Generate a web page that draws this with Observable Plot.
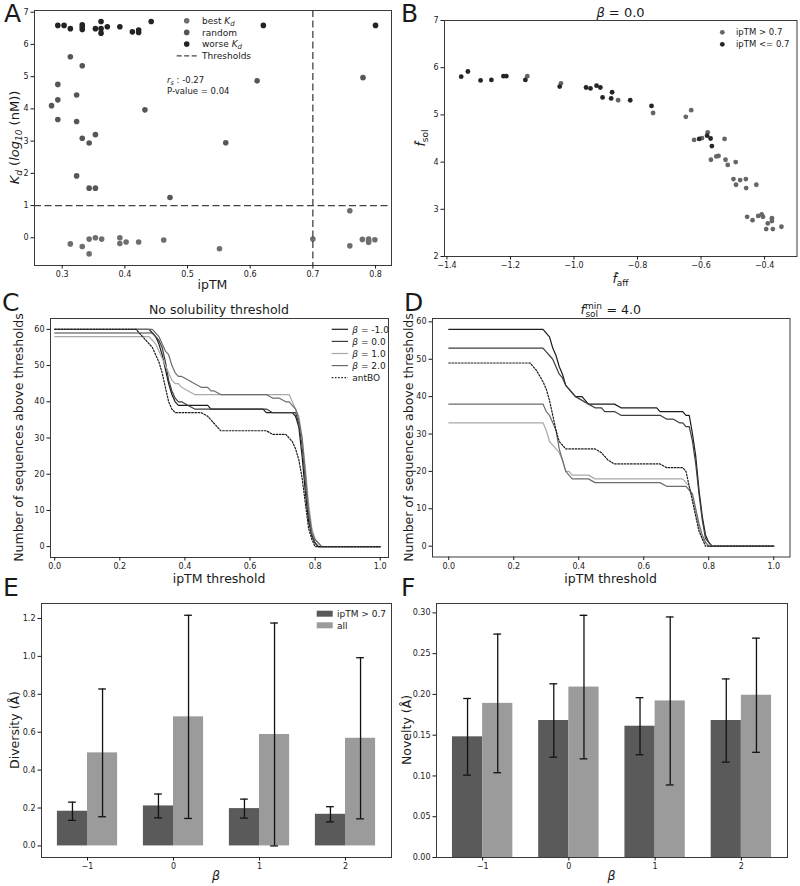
<!DOCTYPE html>
<html><head><meta charset="utf-8">
<script src="https://cdn.jsdelivr.net/npm/d3@7"></script>
<script src="https://cdn.jsdelivr.net/npm/@observablehq/plot@0.6"></script>
<style>
html,body{margin:0;padding:0;background:#fff;}
#fig{position:relative;width:800px;height:886px;overflow:hidden;font-family:"DejaVu Sans",sans-serif;color:#1a1a1a;background:#fff;}
#overlay{position:absolute;left:0;top:0;z-index:5;}
</style></head><body><div id="fig"></div>
<script>
// ---------- Panel A : Kd vs ipTM ----------
const aBestIp = [0.313,0.332,0.343,0.343,0.353,0.363,0.392,0.392,0.402,0.422,0.462,0.551,0.700,0.759,0.759,0.779,0.789,0.789,0.789,0.799];
const aBestKd = [-0.19,-0.27,-0.04,-0.50,0.00,-0.04,0.00,-0.18,-0.13,-0.13,-0.07,-0.34,-0.04,-0.25,0.84,-0.05,-0.04,-0.10,-0.14,-0.06];
const aRandIp = [0.313,0.332,0.293,0.293,0.283,0.323,0.293,0.323,0.432,0.332,0.353,0.343,0.561,0.323,0.343,0.353,0.472,0.611,0.780];
const aRandKd = [5.62,5.34,4.76,4.28,4.10,4.43,3.67,3.61,3.97,3.09,3.20,2.94,2.95,1.92,1.54,1.54,1.25,4.87,4.97];
const aWorseIp = [0.293,0.303,0.313,0.332,0.332,0.332,0.353,0.362,0.362,0.362,0.372,0.392,0.412,0.422,0.422,0.442,0.621,0.800];
const aWorseKd = [6.59,6.59,6.49,6.61,6.54,6.46,6.49,6.71,6.49,6.35,6.55,6.55,6.39,6.45,6.37,6.71,6.59,6.59];
const aXTicks = [0.3,0.4,0.5,0.6,0.7,0.8];
const aYTicks = [0,1,2,3,4,5,6,7];
const aKdThreshold = 1, aIpThreshold = 0.7;

// ---------- Panel B : f_sol vs f_aff ----------
const bHiAff = [-1.147,-1.041,-0.861,-0.751,-0.648,-0.631,-0.622,-0.597,-0.579,-0.526,-0.569,-0.552,-0.545,-0.523,-0.516,-0.491,-0.498,-0.490,-0.477,-0.459,-0.458,-0.426,-0.455,-0.438,-0.420,-0.409,-0.405,-0.390,-0.377,-0.377,-0.395,-0.374,-0.347];
const bHiSol = [5.82,5.67,5.31,5.04,4.96,5.10,4.47,4.51,4.63,4.49,4.05,4.12,4.13,4.05,3.94,4.00,3.64,3.52,3.62,3.64,3.45,3.52,2.84,2.77,2.86,2.89,2.84,2.70,2.81,2.75,2.58,2.58,2.63];
const bLoAff = [-1.355,-1.334,-1.294,-1.260,-1.222,-1.213,-1.153,-1.045,-0.962,-0.948,-0.929,-0.917,-0.910,-0.880,-0.883,-0.823,-0.756,-0.606,-0.581,-0.570,-0.566];
const bLoSol = [5.81,5.92,5.73,5.74,5.82,5.82,5.74,5.60,5.58,5.56,5.62,5.58,5.37,5.48,5.35,5.31,5.19,4.49,4.56,4.50,4.34];
const bXTicks = [-1.4,-1.2,-1.0,-0.8,-0.6,-0.4];
const bYTicks = [2,3,4,5,6,7];

// ---------- Panels C, D : sequences above thresholds ----------
const thr = [0,0.25,0.27,0.29,0.30,0.31,0.32,0.33,0.34,0.35,0.36,0.37,0.38,0.39,0.41,0.43,0.45,0.47,0.48,0.49,0.51,0.53,0.64,0.65,0.67,0.69,0.71,0.72,0.73,0.74,0.75,0.76,0.77,0.78,0.79,0.80,0.81,0.82,0.83,1.0];
const cBetaM1 = [60,60,60,60,59,58,56,53,49,45,42,40,39,39,39,39,39,39,38,38,38,38,38,37,37,37,37,37,37,36,33,25,15,7,3,1,0,0,0,0];
const cBeta0  = [59,59,59,59,59,58,57,55,51,46,43,41,40,40,39,38,38,38,38,38,38,38,38,38,37,37,37,37,37,37,34,28,18,9,3,1,0,0,0,0];
const cBeta1  = [58,58,58,58,57,56,54,52,50,48,46,45,45,44,43,42,42,42,42,42,42,42,42,42,42,42,42,42,40,38,36,30,22,12,5,2,1,0,0,0];
const cBeta2  = [60,60,60,60,60,59,58,56,54,53,50,48,47,47,46,45,44,44,43,43,42,42,42,42,41,41,40,40,39,38,35,30,20,10,4,2,1,0,0,0];
const cAntBO  = [60,60,58,56,55,53,51,48,44,40,38,37,37,37,37,37,37,36,35,34,32,32,32,32,31,31,31,30,29,27,24,19,12,5,2,0,0,0,0,0];
const dBetaM1 = [58,58,58,58,57,56,53,51,48,46,43,42,41,40,40,38,38,38,38,38,38,37,37,36,36,36,36,36,35,35,30,24,15,8,3,1,0,0,0,0];
const dBeta0  = [53,53,53,53,52,51,50,48,46,45,43,42,41,40,39,38,37,37,36,36,36,35,35,35,34,34,33,33,32,32,28,22,14,7,2,1,0,0,0,0];
const dBeta2  = [38,38,38,38,36,35,33,31,26,23,20,19,18,18,18,18,17,17,17,17,17,17,17,17,16,16,16,16,16,15,14,10,6,3,1,0,0,0,0,0];
const dBeta1  = [33,33,33,33,31,28,27,26,25,23,20,20,19,19,19,19,18,18,18,18,18,18,18,18,18,18,18,18,17,16,13,9,5,2,1,0,0,0,0,0];
const dAntBO  = [49,49,47,44,42,39,35,31,28,27,26,26,26,26,26,26,26,25,24,23,22,22,22,22,21,21,21,21,20,16,12,8,4,2,0,0,0,0,0,0];
const cdSeries = ["β = -1.0","β = 0.0","β = 1.0","β = 2.0","antBO"];
const cdXTicks = [0,0.2,0.4,0.6,0.8,1.0];
const cdYTicks = [0,10,20,30,40,50,60];

// ---------- Panels E, F : diversity / novelty ----------
const betas = [-1,0,1,2];
const divHi = [0.183,0.211,0.197,0.167], divHiErr = [0.048,0.063,0.050,0.040];
const divAll = [0.491,0.681,0.588,0.568], divAllErr = [0.337,0.536,0.588,0.425];
const novHi = [0.148,0.168,0.161,0.168], novHiErr = [0.047,0.045,0.035,0.051];
const novAll = [0.189,0.209,0.192,0.199], novAllErr = [0.085,0.088,0.103,0.070];
const eYTicks = [0,0.2,0.4,0.6,0.8,1.0,1.2];
const fYTicks = [0,0.05,0.10,0.15,0.20,0.25,0.30];

// ---------- styling ----------
const INK = "#1a1a1a";
const FONT = "'DejaVu Sans', sans-serif";
const colA = {best:"#6e6e6e", random:"#565656", worse:"#232323"};
const colB = {hi:"#666666", lo:"#252525"};
const colLines = ["#1c1c1c","#3e3e3e","#a9a9a9","#6c6c6c","#1c1c1c"];
const colBars = {hi:"#5a5a5a", all:"#9b9b9b"};

const fig = document.getElementById("fig");

function panel(fr, o) {
  const m = {l: 44, r: 14, t: 12, b: 26};
  const svg = Plot.plot({
    width: fr.w + m.l + m.r, height: fr.h + m.t + m.b,
    marginLeft: m.l, marginRight: m.r, marginTop: m.t, marginBottom: m.b,
    style: {fontFamily: FONT, fontSize: "8px", color: INK, background: "transparent", overflow: "visible"},
    x: {type: "linear", domain: o.xd},
    y: {type: "linear", domain: o.yd},
    marks: [
      ...o.marks,
      Plot.frame({stroke: "#3a3a3a", strokeWidth: 1}),
      Plot.axisX({ticks: o.xt, tickFormat: o.xf, tickSize: 3.5, tickPadding: 2.5, label: null}),
      Plot.axisY({ticks: o.yt, tickFormat: o.yf, tickSize: 3.5, tickPadding: 2.5, label: null})
    ]
  });
  svg.style.position = "absolute";
  svg.style.left = (fr.x - m.l) + "px";
  svg.style.top = (fr.y - m.t) + "px";
  fig.append(svg);
}

const pts = (xs, ys) => xs.map((x, i) => ({x, y: ys[i]}));

// Panel A
panel({x: 34, y: 10, w: 357, h: 255}, {
  xd: [0.2558, 0.8255], yd: [-0.86, 7.053], xt: aXTicks, yt: aYTicks, xf: ".1f", yf: "d",
  marks: [
    Plot.dot(pts(aBestIp, aBestKd), {x: "x", y: "y", r: 2.8, fill: colA.best}),
    Plot.dot(pts(aRandIp, aRandKd), {x: "x", y: "y", r: 2.8, fill: colA.random}),
    Plot.dot(pts(aWorseIp, aWorseKd), {x: "x", y: "y", r: 2.8, fill: colA.worse}),
    Plot.ruleY([aKdThreshold], {stroke: "#444", strokeWidth: 1.3, strokeDasharray: "7,3.5"}),
    Plot.ruleX([aIpThreshold], {stroke: "#444", strokeWidth: 1.3, strokeDasharray: "7,3.5"})
  ]
});

// Panel B
panel({x: 444, y: 20, w: 352.5, h: 236}, {
  xd: [-1.4076, -0.298], yd: [2, 7], xt: bXTicks, yt: bYTicks, xf: ".1f", yf: "d",
  marks: [
    Plot.dot(pts(bHiAff, bHiSol), {x: "x", y: "y", r: 2.4, fill: colB.hi}),
    Plot.dot(pts(bLoAff, bLoSol), {x: "x", y: "y", r: 2.4, fill: colB.lo})
  ]
});

function seriesMarks(list) {
  return list.map((vals, k) => Plot.line(thr.map((t, i) => ({t, n: vals[i]})), {
    x: "t", y: "n", stroke: colLines[k], strokeWidth: 1.2,
    strokeDasharray: k === 4 ? "1.6,1.6" : null
  }));
}

// Panel C
panel({x: 50, y: 318, w: 338, h: 239}, {
  xd: [-0.013, 1.0255], yd: [-3, 63], xt: cdXTicks, yt: cdYTicks, xf: ".1f", yf: "d",
  marks: seriesMarks([cBetaM1, cBeta0, cBeta1, cBeta2, cAntBO])
});

// Panel D
panel({x: 432, y: 318, w: 357.5, h: 238.5}, {
  xd: [-0.05, 1.05], yd: [-2.9, 60.9], xt: cdXTicks, yt: cdYTicks, xf: ".1f", yf: "d",
  marks: seriesMarks([dBetaM1, dBeta0, dBeta1, dBeta2, dAntBO])
});

function barMarks(hiV, hiE, allV, allE) {
  const hi = betas.map((b, i) => ({b, v: hiV[i], e: hiE[i], c: b - 0.175}));
  const all = betas.map((b, i) => ({b, v: allV[i], e: allE[i], c: b + 0.175}));
  const both = hi.concat(all);
  const caps = both.flatMap(d => [{c: d.c, y: d.v - d.e}, {c: d.c, y: d.v + d.e}]);
  return [
    Plot.rect(hi, {x1: d => d.b - 0.35, x2: d => d.b, y1: 0, y2: "v", fill: colBars.hi}),
    Plot.rect(all, {x1: d => d.b, x2: d => d.b + 0.35, y1: 0, y2: "v", fill: colBars.all}),
    Plot.ruleX(both, {x: "c", y1: d => d.v - d.e, y2: d => d.v + d.e, stroke: "#111", strokeWidth: 1.3}),
    Plot.ruleY(caps, {y: "y", x1: d => d.c - 0.045, x2: d => d.c + 0.045, stroke: "#111", strokeWidth: 1.3})
  ];
}

// Panel E
panel({x: 41, y: 603, w: 350, h: 254}, {
  xd: [-1.535, 2.535], yd: [-0.061, 1.279], xt: betas, yt: eYTicks, xf: "d", yf: ".1f",
  marks: barMarks(divHi, divHiErr, divAll, divAllErr)
});

// Panel F
panel({x: 436, y: 603, w: 351, h: 254}, {
  xd: [-1.535, 2.535], yd: [0, 0.3115], xt: betas, yt: fYTicks, xf: "d", yf: ".2f",
  marks: barMarks(novHi, novHiErr, novAll, novAllErr)
});

// ---------- text overlay: panel letters, titles, axis labels, legends ----------
const T = [];
const it = s => `<tspan font-style="italic">${s}</tspan>`;
const sub = (s, size, shift, italic) => `<tspan font-size="${size}" baseline-shift="${shift}"${italic ? ' font-style="italic"' : ''}>${s}</tspan>`;
function txt(x, y, html, o = {}) {
  const size = o.size || 12.5, anchor = o.anchor || "start";
  const rot = o.rot ? ` transform="rotate(-90 ${x} ${y})"` : "";
  T.push(`<text x="${x}" y="${y}" font-size="${size}" text-anchor="${anchor}"${rot}>${html}</text>`);
}
// panel letters
[["A",4,22],["B",401,22],["C",2,311],["D",404,311],["E",3,596],["F",401,596]]
  .forEach(([l, x, y]) => txt(x, y, l, {size: 25}));

// A
txt(19, 137.5, `${it("K")}${sub("d", 9, -2.5, true)} (${it("log")}${sub("10", 9, -2.5, true)} (nM))`, {rot: true, anchor: "middle", size: 13});
txt(212.5, 289, "ipTM", {anchor: "middle"});
const aLegend = [["best " + it("K") + sub("d", 7, -2, true), colA.best], ["random", colA.random], ["worse " + it("K") + sub("d", 7, -2, true), colA.worse]];
aLegend.forEach(([lab, c], i) => {
  const y = 20.7 + i * 11.7;
  T.push(`<circle cx="186.7" cy="${y}" r="2.8" fill="${c}"/>`);
  txt(202, y + 3.2, lab, {size: 9});
});
T.push(`<line x1="176.7" x2="198.3" y1="55.8" y2="55.8" stroke="#444" stroke-width="1.3" stroke-dasharray="5,2.5"/>`);
txt(202, 59, "Thresholds", {size: 9});
txt(167, 83, `${it("r")}${sub("s", 6.5, -1.5, true)} : -0.27`, {size: 8.5});
txt(167, 93.8, "P-value = 0.04", {size: 8.5});

// B
txt(620.5, 17, `${it("β")} = 0.0`, {anchor: "middle", size: 13});
txt(425, 138, `${it("f\u0302")}${sub("sol", 9, -3)}`, {rot: true, anchor: "middle"});
txt(620.5, 283, `${it("f\u0302")}${sub("aff", 9, -3)}`, {anchor: "middle"});
[["ipTM > 0.7", colB.hi], ["ipTM <= 0.7", colB.lo]].forEach(([lab, c], i) => {
  const y = 32.3 + i * 12;
  T.push(`<circle cx="722.3" cy="${y}" r="2.4" fill="${c}"/>`);
  txt(736, y + 3, lab, {size: 8.5});
});

// C
txt(219, 314, "No solubility threshold", {anchor: "middle"});
txt(23, 437.5, "Number of sequences above thresholds", {rot: true, anchor: "middle"});
txt(219, 583, "ipTM threshold", {anchor: "middle"});
cdSeries.forEach((lab, k) => {
  const y = 329.3 + k * 12.1;
  T.push(`<line x1="331.7" x2="348" y1="${y}" y2="${y}" stroke="${colLines[k]}" stroke-width="1.2"${k === 4 ? ' stroke-dasharray="1.6,1.6"' : ''}/>`);
  const html = lab.startsWith("β") ? it("β") + lab.slice(1) : lab;
  txt(352.3, y + 3.2, html, {size: 9});
});

// D
txt(610.7, 314, `${it("f")}<tspan font-size="9" baseline-shift="5.5">min</tspan><tspan font-size="9" dx="-16.5" baseline-shift="-3">sol</tspan><tspan dx="4.5"> = 4.0</tspan>`, {anchor: "middle"});
txt(413, 437.5, "Number of sequences above thresholds", {rot: true, anchor: "middle"});
txt(610.7, 583, "ipTM threshold", {anchor: "middle"});

// E
txt(19, 730, "Diversity (Å)", {rot: true, anchor: "middle"});
txt(216, 880, it("β"), {anchor: "middle"});
[["ipTM > 0.7", colBars.hi], ["all", colBars.all]].forEach(([lab, c], i) => {
  const y = 613.7 + i * 11.6;
  T.push(`<rect x="316.7" y="${y - 3}" width="16" height="6" fill="${c}"/>`);
  txt(337, y + 3.2, lab, {size: 9});
});

// F
txt(410.5, 730, "Novelty (Å)", {rot: true, anchor: "middle"});
txt(611.5, 880, it("β"), {anchor: "middle"});

fig.insertAdjacentHTML("beforeend",
  `<svg id="overlay" width="800" height="886" font-family="${FONT}" fill="${INK}">${T.join("")}</svg>`);
</script></body></html>
